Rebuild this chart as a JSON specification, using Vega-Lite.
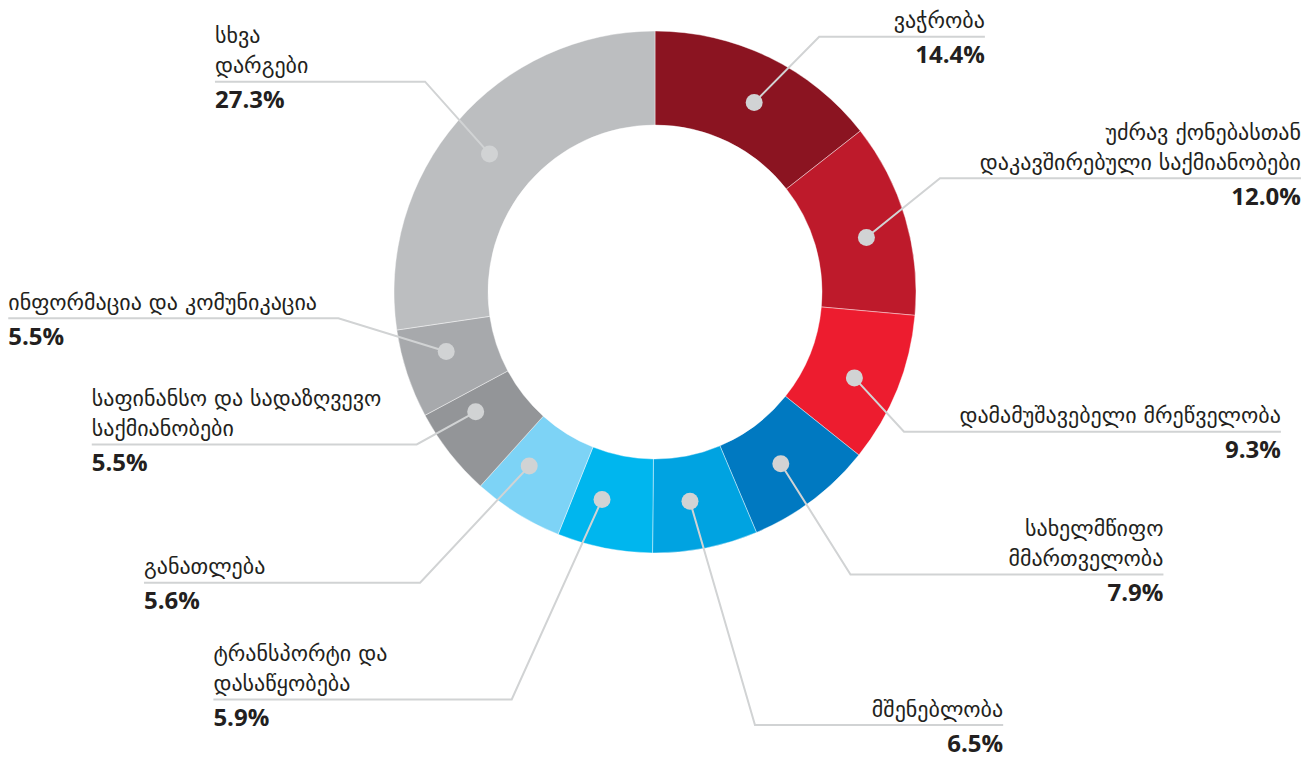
{
  "$schema": "https://vega.github.io/schema/vega-lite/v6.json",
  "width": 1314,
  "height": 758,
  "autosize": {"type": "none"},
  "padding": 0,
  "background": "#ffffff",
  "config": {"view": {"stroke": null}},
  "datasets": {
    "sectors": [
      {"sector": "ვაჭრობა", "share": 0.144, "name_top": "", "name_bottom": "ვაჭრობა"},
      {"sector": "უძრავ ქონებასთან დაკავშირებული საქმიანობები", "share": 0.120, "name_top": "უძრავ ქონებასთან", "name_bottom": "დაკავშირებული საქმიანობები"},
      {"sector": "დამამუშავებელი მრეწველობა", "share": 0.093, "name_top": "", "name_bottom": "დამამუშავებელი მრეწველობა"},
      {"sector": "სახელმწიფო მმართველობა", "share": 0.079, "name_top": "სახელმწიფო", "name_bottom": "მმართველობა"},
      {"sector": "მშენებლობა", "share": 0.065, "name_top": "", "name_bottom": "მშენებლობა"},
      {"sector": "ტრანსპორტი და დასაწყობება", "share": 0.059, "name_top": "ტრანსპორტი და", "name_bottom": "დასაწყობება"},
      {"sector": "განათლება", "share": 0.056, "name_top": "", "name_bottom": "განათლება"},
      {"sector": "საფინანსო და სადაზღვევო საქმიანობები", "share": 0.055, "name_top": "საფინანსო და სადაზღვევო", "name_bottom": "საქმიანობები"},
      {"sector": "ინფორმაცია და კომუნიკაცია", "share": 0.055, "name_top": "", "name_bottom": "ინფორმაცია და კომუნიკაცია"},
      {"sector": "სხვა დარგები", "share": 0.273, "name_top": "სხვა", "name_bottom": "დარგები"}
    ],
    "leaders": [
      {"sector": "ვაჭრობა", "pt": "dot", "x": 38.0, "y": 72.6},
      {"sector": "ვაჭრობა", "pt": "bend", "x": 62.9, "y": 97.8},
      {"sector": "ვაჭრობა", "pt": "end", "x": 126.4, "y": 97.8},
      {"sector": "უძრავ ქონებასთან დაკავშირებული საქმიანობები", "pt": "dot", "x": 81.0, "y": 20.9},
      {"sector": "უძრავ ქონებასთან დაკავშირებული საქმიანობები", "pt": "bend", "x": 109.2, "y": 43.6},
      {"sector": "უძრავ ქონებასთან დაკავშირებული საქმიანობები", "pt": "end", "x": 247.5, "y": 43.6},
      {"sector": "დამამუშავებელი მრეწველობა", "pt": "dot", "x": 76.4, "y": -32.9},
      {"sector": "დამამუშავებელი მრეწველობა", "pt": "bend", "x": 95.4, "y": -53.5},
      {"sector": "დამამუშავებელი მრეწველობა", "pt": "end", "x": 239.8, "y": -53.5},
      {"sector": "სახელმწიფო მმართველობა", "pt": "dot", "x": 48.2, "y": -65.8},
      {"sector": "სახელმწიფო მმართველობა", "pt": "bend", "x": 74.9, "y": -108.2},
      {"sector": "სახელმწიფო მმართველობა", "pt": "end", "x": 194.8, "y": -108.2},
      {"sector": "მშენებლობა", "pt": "dot", "x": 13.4, "y": -80.2},
      {"sector": "მშენებლობა", "pt": "bend", "x": 38.3, "y": -165.9},
      {"sector": "მშენებლობა", "pt": "end", "x": 133.4, "y": -165.9},
      {"sector": "ტრანსპორტი და დასაწყობება", "pt": "dot", "x": -20.3, "y": -79.5},
      {"sector": "ტრანსპორტი და დასაწყობება", "pt": "bend", "x": -54.9, "y": -156.1},
      {"sector": "ტრანსპორტი და დასაწყობება", "pt": "end", "x": -169.2, "y": -156.1},
      {"sector": "განათლება", "pt": "dot", "x": -48.2, "y": -66.7},
      {"sector": "განათლება", "pt": "bend", "x": -90.0, "y": -111.4},
      {"sector": "განათლება", "pt": "end", "x": -195.8, "y": -111.4},
      {"sector": "საფინანსო და სადაზღვევო საქმიანობები", "pt": "dot", "x": -68.7, "y": -45.9},
      {"sector": "საფინანსო და სადაზღვევო საქმიანობები", "pt": "bend", "x": -91.3, "y": -58.4},
      {"sector": "საფინანსო და სადაზღვევო საქმიანობები", "pt": "end", "x": -215.8, "y": -58.4},
      {"sector": "ინფორმაცია და კომუნიკაცია", "pt": "dot", "x": -80.0, "y": -22.8},
      {"sector": "ინფორმაცია და კომუნიკაცია", "pt": "bend", "x": -121.3, "y": -10.1},
      {"sector": "ინფორმაცია და კომუნიკაცია", "pt": "end", "x": -247.8, "y": -10.1},
      {"sector": "სხვა დარგები", "pt": "dot", "x": -63.4, "y": 52.9},
      {"sector": "სხვა დარგები", "pt": "bend", "x": -88.1, "y": 80.6},
      {"sector": "სხვა დარგები", "pt": "end", "x": -168.6, "y": 80.6}
    ]
  },
  "layer": [
    {
      "data": {"name": "sectors"},
      "transform": [{"window": [{"op": "row_number", "as": "rank"}]}],
      "mark": {"type": "arc", "innerRadius": 167, "outerRadius": 261, "stroke": "#ffffff", "strokeWidth": 0.6, "strokeOpacity": 0.7},
      "encoding": {
        "x": {"datum": 0, "type": "quantitative", "scale": {"domain": [-250.96, 252.49], "nice": false, "zero": false}, "axis": null},
        "y": {"datum": 0, "type": "quantitative", "scale": {"domain": [-178.54, 111.88], "nice": false, "zero": false}, "axis": null},
        "theta": {"field": "share", "type": "quantitative", "stack": true},
        "order": {"field": "rank", "type": "quantitative"},
        "color": {
          "field": "sector",
          "type": "nominal",
          "legend": null,
          "scale": {
            "domain": ["ვაჭრობა", "უძრავ ქონებასთან დაკავშირებული საქმიანობები", "დამამუშავებელი მრეწველობა", "სახელმწიფო მმართველობა", "მშენებლობა", "ტრანსპორტი და დასაწყობება", "განათლება", "საფინანსო და სადაზღვევო საქმიანობები", "ინფორმაცია და კომუნიკაცია", "სხვა დარგები"],
            "range": ["#8b1421", "#be1a2b", "#ed1c2f", "#0079c1", "#00a3e1", "#00b6ee", "#7dd3f6", "#939598", "#a7a9ac", "#bcbec0"]
          }
        }
      }
    },
    {
      "data": {"name": "leaders"},
      "mark": {"type": "line", "color": "#d1d3d4", "strokeWidth": 2},
      "encoding": {
        "x": {"field": "x", "type": "quantitative", "scale": {"domain": [-250.96, 252.49], "nice": false, "zero": false}, "axis": null},
        "y": {"field": "y", "type": "quantitative", "scale": {"domain": [-178.54, 111.88], "nice": false, "zero": false}, "axis": null},
        "detail": {"field": "sector", "type": "nominal"}
      }
    },
    {
      "data": {"name": "leaders"},
      "transform": [{"filter": "datum.pt === 'dot'"}],
      "mark": {"type": "circle", "size": 289, "color": "#d1d3d4", "opacity": 1},
      "encoding": {
        "x": {"field": "x", "type": "quantitative", "scale": {"domain": [-250.96, 252.49], "nice": false, "zero": false}, "axis": null},
        "y": {"field": "y", "type": "quantitative", "scale": {"domain": [-178.54, 111.88], "nice": false, "zero": false}, "axis": null}
      }
    },
    {
      "data": {"name": "leaders"},
      "transform": [
        {"filter": "datum.pt === 'end'"},
        {"lookup": "sector", "from": {"data": {"name": "sectors"}, "key": "sector", "fields": ["share", "name_top", "name_bottom"]}}
      ],
      "encoding": {
        "x": {"field": "x", "type": "quantitative", "scale": {"domain": [-250.96, 252.49], "nice": false, "zero": false}, "axis": null},
        "y": {"field": "y", "type": "quantitative", "scale": {"domain": [-178.54, 111.88], "nice": false, "zero": false}, "axis": null}
      },
      "layer": [
        {
          "transform": [{"filter": "datum.x > 0"}],
          "mark": {"type": "text", "align": "right", "baseline": "alphabetic", "dy": -8.5, "font": "DejaVu Sans", "fontSize": 22, "color": "#231f20"},
          "encoding": {"text": {"field": "name_bottom", "type": "nominal"}}
        },
        {
          "transform": [{"filter": "datum.x > 0"}],
          "mark": {"type": "text", "align": "right", "baseline": "alphabetic", "dy": -38.5, "font": "DejaVu Sans", "fontSize": 22, "color": "#231f20"},
          "encoding": {"text": {"field": "name_top", "type": "nominal"}}
        },
        {
          "transform": [{"filter": "datum.x > 0"}],
          "mark": {"type": "text", "align": "right", "baseline": "alphabetic", "dy": 26.5, "font": "Open Sans", "fontWeight": "bold", "fontSize": 24, "color": "#231f20"},
          "encoding": {"text": {"field": "share", "type": "quantitative", "format": ".1%"}}
        },
        {
          "transform": [{"filter": "datum.x < 0"}],
          "mark": {"type": "text", "align": "left", "baseline": "alphabetic", "dy": -8.5, "font": "DejaVu Sans", "fontSize": 22, "color": "#231f20"},
          "encoding": {"text": {"field": "name_bottom", "type": "nominal"}}
        },
        {
          "transform": [{"filter": "datum.x < 0"}],
          "mark": {"type": "text", "align": "left", "baseline": "alphabetic", "dy": -38.5, "font": "DejaVu Sans", "fontSize": 22, "color": "#231f20"},
          "encoding": {"text": {"field": "name_top", "type": "nominal"}}
        },
        {
          "transform": [{"filter": "datum.x < 0"}],
          "mark": {"type": "text", "align": "left", "baseline": "alphabetic", "dy": 26.5, "font": "Open Sans", "fontWeight": "bold", "fontSize": 24, "color": "#231f20"},
          "encoding": {"text": {"field": "share", "type": "quantitative", "format": ".1%"}}
        }
      ]
    }
  ]
}
